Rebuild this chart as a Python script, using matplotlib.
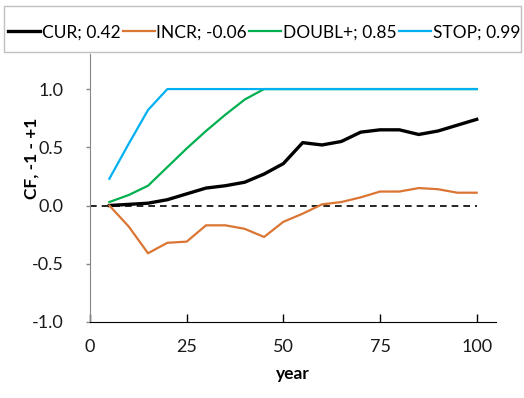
import numpy as np
import matplotlib.pyplot as plt
from matplotlib.patches import Rectangle

# values
years = [5, 10, 15, 20, 25, 30, 35, 40, 45, 50, 55, 60, 65, 70, 75, 80, 85, 90, 95, 100]
cur = [0.0, 0.01, 0.02, 0.05, 0.10, 0.15, 0.17, 0.20, 0.27, 0.36, 0.54, 0.52, 0.55, 0.63, 0.65, 0.65, 0.61, 0.64, 0.69, 0.74]
incr = [0.0, -0.18, -0.41, -0.32, -0.31, -0.17, -0.17, -0.20, -0.27, -0.14, -0.07, 0.01, 0.03, 0.07, 0.12, 0.12, 0.15, 0.14, 0.11, 0.11]
doubl = [0.03, 0.09, 0.17, 0.33, 0.49, 0.64, 0.78, 0.91, 1.0, 1.0, 1.0, 1.0, 1.0, 1.0, 1.0, 1.0, 1.0, 1.0, 1.0, 1.0]
stop = [0.23, 0.53, 0.82, 1.0, 1.0, 1.0, 1.0, 1.0, 1.0, 1.0, 1.0, 1.0, 1.0, 1.0, 1.0, 1.0, 1.0, 1.0, 1.0, 1.0]
labels = ['CUR; 0.42', 'INCR; -0.06', 'DOUBL+; 0.85', 'STOP; 0.99']
colors = ['#000000', '#DA7533', '#00B050', '#00B0F0']
xticks = [0, 25, 50, 75, 100]
yticks = [-1.0, -0.5, 0.0, 0.5, 1.0]

plt.rcParams['font.family'] = ['Lato', 'DejaVu Sans']

fig = plt.figure(figsize=(5.24, 3.98), dpi=100)
ax = fig.add_axes([0.1718, 0.191, 0.7748, 0.673])

ax.plot([0, 100], [0, 0], color='black', lw=1.2, ls=(0, (4, 3)))
series = [cur, incr, doubl, stop]
widths = [2.4, 1.6, 1.6, 1.6]
for s, lab, c, w in zip(series, labels, colors, widths):
    ax.plot(years, s, color=c, lw=w, label=lab, solid_joinstyle='round')

ax.set_xlim(0, 105)
ax.set_ylim(-1.0, 1.3)
ax.set_xticks(xticks)
ax.set_yticks(yticks)
ax.set_yticklabels(['%.1f' % v for v in yticks])

for side in ['top', 'right']:
    ax.spines[side].set_visible(False)
ax.spines['left'].set_color('#868686')
ax.spines['bottom'].set_color('#000000')

ax.tick_params(axis='x', direction='in', length=6, width=1, color='#000000',
               labelsize=13, pad=12, labelcolor='#1a1a1a')
ax.tick_params(axis='y', direction='out', length=3, width=1, color='#868686',
               labelsize=13, pad=16, labelcolor='#1a1a1a')

ax.set_xlabel('year', fontsize=12.5, fontweight='bold', labelpad=8)
ax.set_ylabel('CF, -1 - +1', fontsize=12.5, fontweight='bold')
ax.yaxis.set_label_coords(-0.124, 0.612)

# legend box drawn separately so the padding can follow the reference
fig.patches.append(Rectangle((0.0076, 0.869), 0.987, 0.116, transform=fig.transFigure,
                             facecolor='white', edgecolor='#bfbfbf', lw=1.0, zorder=3))
leg = fig.legend(loc='center left', bbox_to_anchor=(0.015, 0.919, 0.978, 0.0),
                 mode='expand', ncol=4, fontsize=12.5, frameon=False,
                 handlelength=1.85, handletextpad=0.1, columnspacing=0.5,
                 borderpad=0, borderaxespad=0)
leg.set_zorder(4)

fig.savefig('out.png', dpi=100)
